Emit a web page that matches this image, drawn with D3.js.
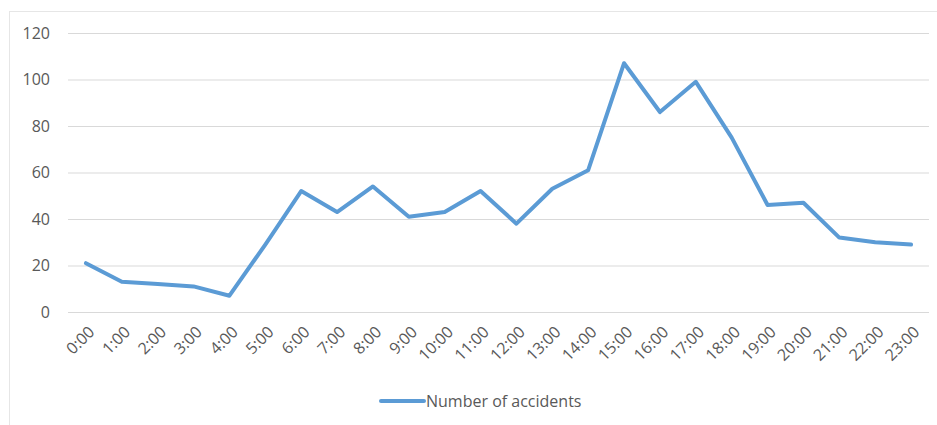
<!DOCTYPE html>
<html>
<head>
<meta charset="utf-8">
<script src="https://cdn.jsdelivr.net/npm/d3@7"></script>
<style>
  html, body { margin: 0; padding: 0; background: #fff; }
  svg text { font-family: "Open Sans", Carlito, Calibri, sans-serif; fill: #595959; }
</style>
</head>
<body>
<svg id="chart" width="937" height="425"></svg>
<script>
// Accidents by hour of day
const hours = ["0:00","1:00","2:00","3:00","4:00","5:00","6:00","7:00","8:00","9:00","10:00","11:00",
               "12:00","13:00","14:00","15:00","16:00","17:00","18:00","19:00","20:00","21:00","22:00","23:00"];
const accidents = [21, 13, 12, 11, 7, 29, 52, 43, 54, 41, 43, 52, 38, 53, 61, 107, 86, 99, 75, 46, 47, 32, 30, 29];
const yTicks = [0, 20, 40, 60, 80, 100, 120];
const seriesName = "Number of accidents";

const svg = d3.select("#chart");
const plot = { left: 68, right: 929, top: 33, bottom: 312 };

// outer chart frame
svg.append("rect")
  .attr("x", 9.5).attr("y", 11.5)
  .attr("width", 940).attr("height", 430)
  .attr("fill", "none").attr("stroke", "#e6e6e6");

const x = d3.scalePoint().domain(hours).range([plot.left, plot.right]).padding(0.5);
const y = d3.scaleLinear().domain([0, 120]).range([plot.bottom, plot.top]);

// horizontal gridlines + y labels
const yAxis = svg.append("g")
  .attr("transform", `translate(${plot.left},0)`)
  .call(d3.axisLeft(y).tickValues(yTicks).tickSize(-(plot.right - plot.left)).tickPadding(18));
yAxis.attr("font-size", null).attr("font-family", null);
yAxis.select(".domain").remove();
yAxis.selectAll(".tick line").attr("stroke", "#d9d9d9").attr("stroke-width", 1);
yAxis.selectAll(".tick text").style("font-size", "16px").style("fill", "#595959");

// category labels, rotated
const xAxis = svg.append("g")
  .attr("transform", `translate(0,${plot.bottom})`)
  .call(d3.axisBottom(x).tickSize(0));
xAxis.attr("font-size", null).attr("font-family", null);
xAxis.select(".domain").remove();
xAxis.selectAll(".tick text")
  .style("font-size", "16px")
  .attr("text-anchor", "end")
  .attr("dy", "0.35em")
  .attr("transform", "translate(5,17) rotate(-45)")
  .attr("x", 0).attr("y", 0)
  .style("fill", "#595959");

// series line
const line = d3.line()
  .x((d, i) => x(hours[i]))
  .y(d => y(d));
svg.append("path")
  .datum(accidents)
  .attr("d", line)
  .attr("fill", "none")
  .attr("stroke", "#5B9BD5")
  .attr("stroke-width", 4)
  .attr("stroke-linejoin", "round")
  .attr("stroke-linecap", "round");

// legend
const lg = svg.append("g").attr("transform", "translate(381,401)");
lg.append("line").attr("x1", 0).attr("x2", 43).attr("y1", 0).attr("y2", 0)
  .attr("stroke", "#5B9BD5").attr("stroke-width", 4).attr("stroke-linecap", "round");
lg.append("text").attr("x", 45).attr("y", 0).attr("dy", "0.35em")
  .style("font-size", "16px").text(seriesName);
</script>
</body>
</html>
